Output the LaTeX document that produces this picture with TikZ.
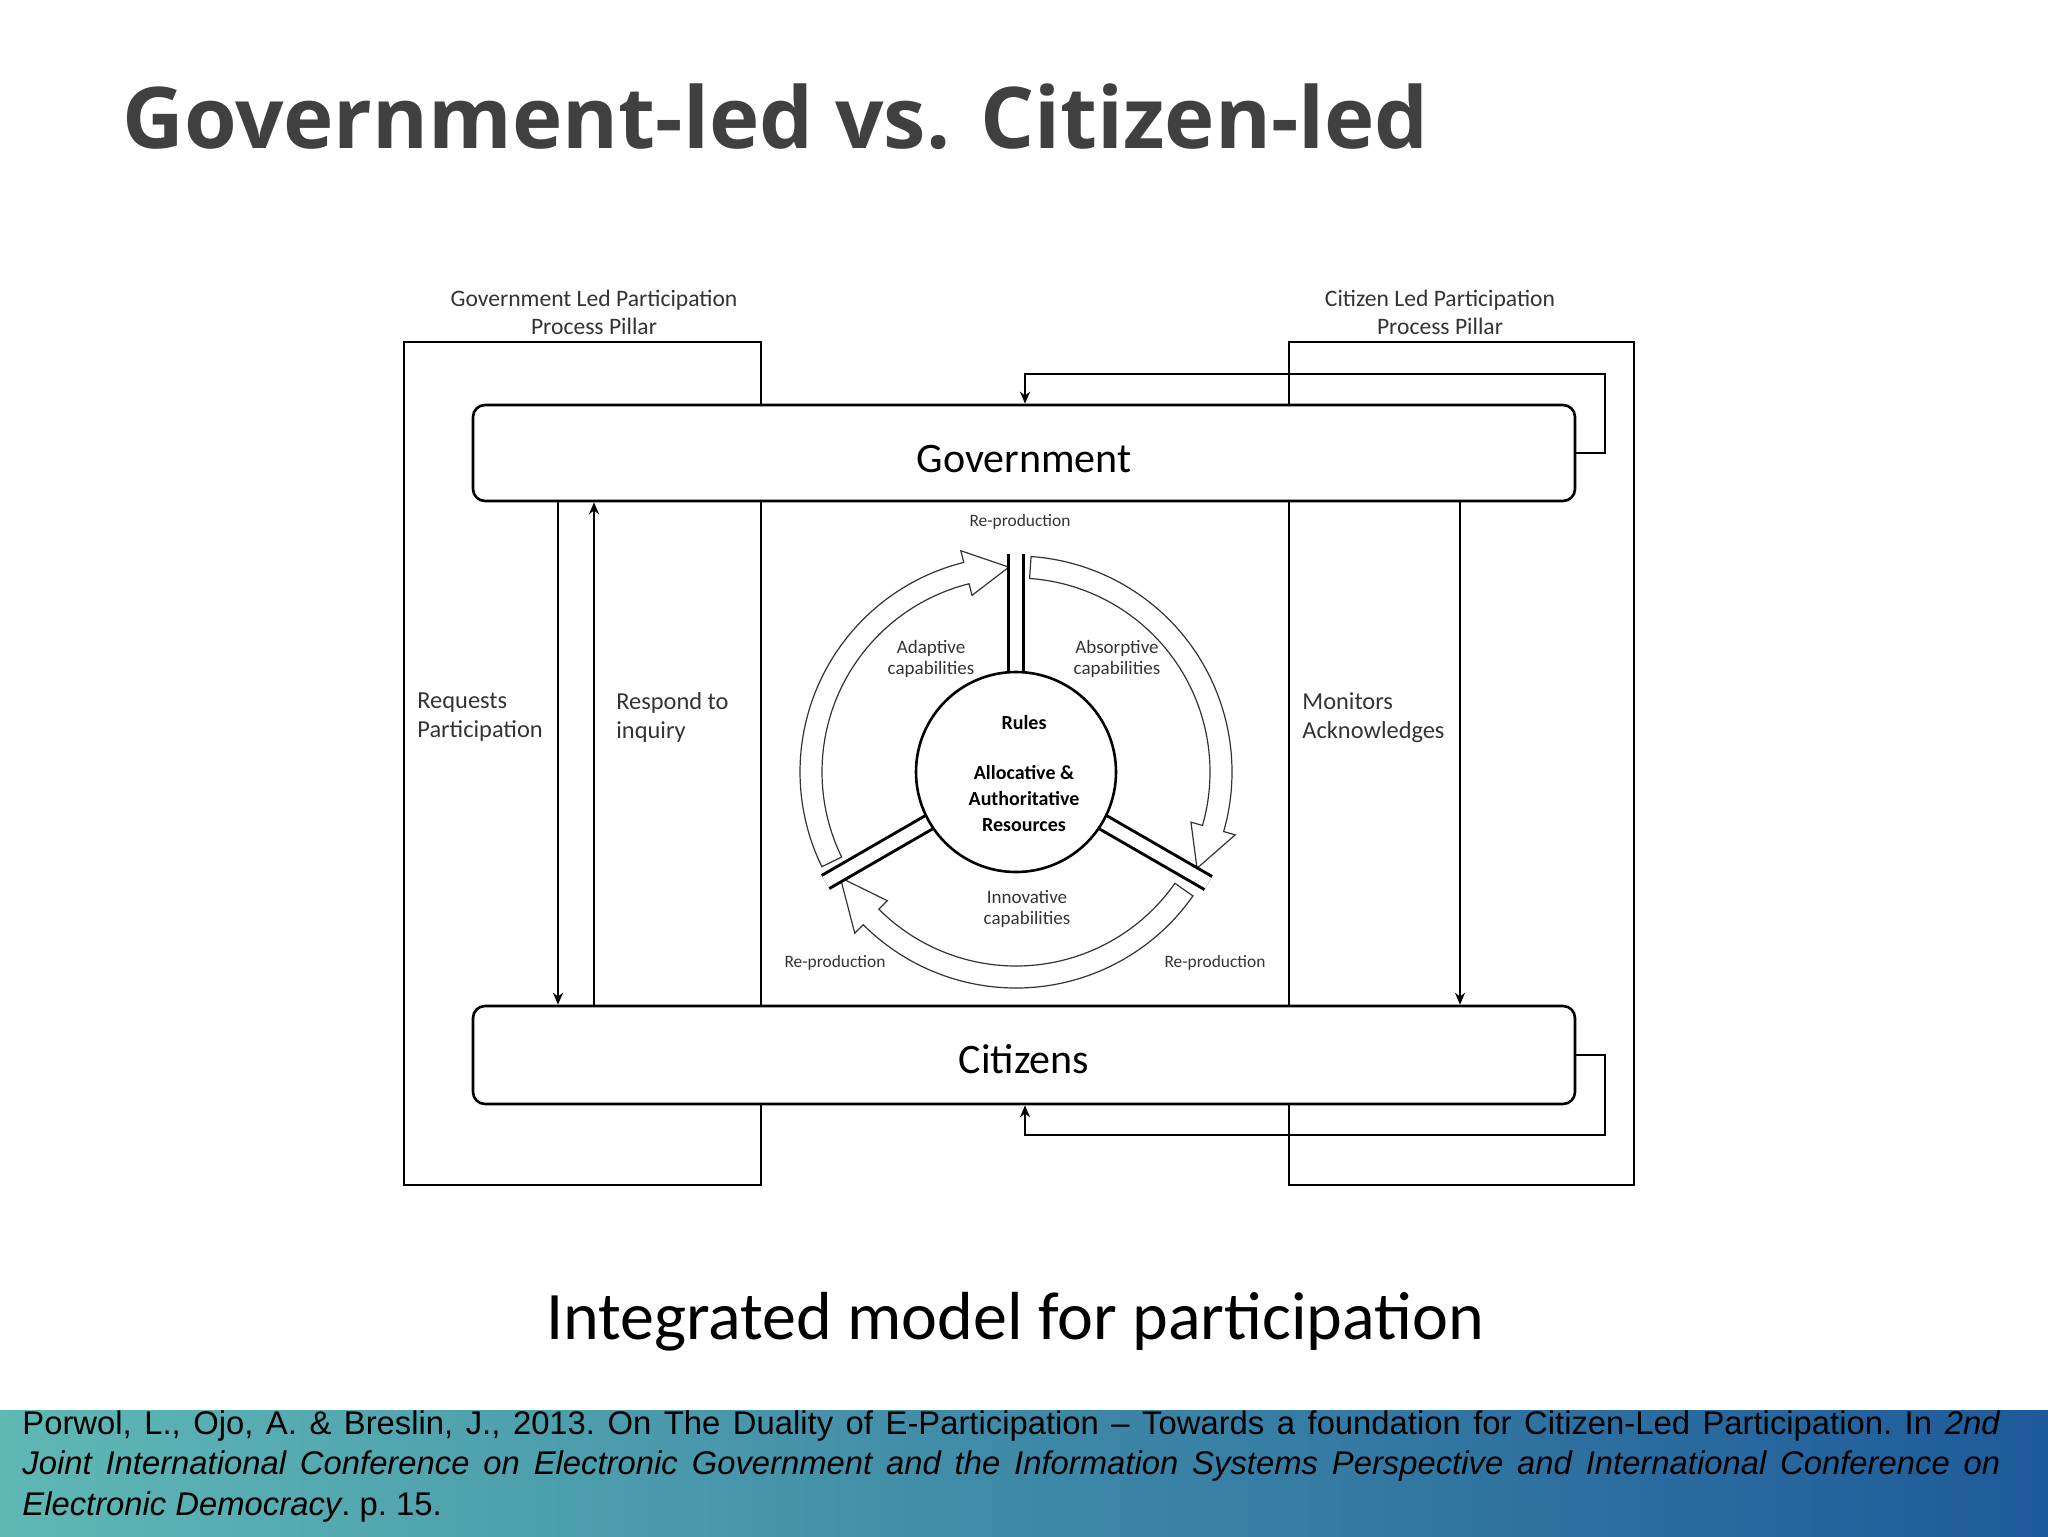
\documentclass[tikz,border=0pt]{standalone}
\usepackage{fontspec}
\setmainfont{Carlito}
\newfontfamily\titlefont{Open Sans}
\newfontfamily\reffont{Liberation Sans}
\usetikzlibrary{arrows.meta}
\definecolor{titlegray}{HTML}{404040}
\definecolor{bandA}{HTML}{5FB8B4}
\definecolor{bandB}{HTML}{1E5A9A}
\definecolor{gl}{HTML}{333333}
\tikzset{
  ln/.style={line width=1.3pt,draw=black},
  bigbox/.style={ln,rounded corners=6pt,fill=white},
  lbl/.style={font=\fontsize{12.2}{14.5}\selectfont,text=gl,align=left,anchor=north west,inner sep=0pt},
  small/.style={font=\fontsize{8.7}{10.5}\selectfont,text=gl,align=center,inner sep=0pt},
  caplbl/.style={font=\fontsize{9.5}{10.5}\selectfont,text=gl,align=center,inner sep=0pt},
  ring/.style={line width=0.6pt,draw=black!80,fill=white},
  spoke/.style={line width=1.5pt,double=white,double distance=6pt},
  arr/.style={ln,-{Stealth[length=6pt,width=5pt]}}
}
\begin{document}
\begin{tikzpicture}[x=0.5pt,y=-0.5pt]
\useasboundingbox (0,0) rectangle (2048,1536);
% band
\shade[left color=bandA,right color=bandB] (0,1410) rectangle (2048,1536);
\node[anchor=west,font=\titlefont\bfseries\fontsize{42.6}{48}\selectfont,text=titlegray,inner sep=0pt] (title) at (122,117) {Government-led vs. Citizen-led};
% pillars
\draw[ln] (404,342) rectangle (761,1185);
\draw[ln] (1289,342) rectangle (1634,1185);
\node[small,font=\fontsize{11.8}{14}\selectfont] (gp) at (594,312) {Government Led Participation\\Process Pillar};
\node[small,font=\fontsize{11.8}{14}\selectfont] (cp) at (1440,312) {Citizen Led Participation\\Process Pillar};
% boxes
\node[bigbox,minimum width=551pt,minimum height=48pt,inner sep=0pt] (gov) at (1024,453) {};
\node[font=\fontsize{21}{24}\selectfont] at (1024,459) {Government};
\node[bigbox,minimum width=551pt,minimum height=49pt,inner sep=0pt] (cit) at (1024,1055) {};
\node[font=\fontsize{21}{24}\selectfont] at (1024,1059) {Citizens};
% feedback loops
\coordinate (g1) at (1605,453); \coordinate (g2) at (1605,374); \coordinate (g3) at (1025,374);
\draw[arr] (gov.east |- g1) -- (g1) -- (g2) -- (g3) -- (g3 |- gov.north);
\coordinate (c1) at (1605,1055); \coordinate (c2) at (1605,1135); \coordinate (c3) at (1025,1135);
\draw[arr] (cit.east |- c1) -- (c1) -- (c2) -- (c3) -- (c3 |- cit.south);
% vertical arrows
\coordinate (a1) at (558,0); \coordinate (a2) at (594,0); \coordinate (a3) at (1460,0);
\draw[arr] (a1 |- gov.south) -- (a1 |- cit.north);
\draw[arr] (a2 |- cit.north) -- (a2 |- gov.south);
\draw[arr] (a3 |- gov.south) -- (a3 |- cit.north);
\node[lbl] (rq) at (417,692) {Requests\\Participation};
\node[lbl] (ri) at (616,692) {Respond to\\inquiry};
\node[lbl] (mo) at (1302,692) {Monitors\\Acknowledges};
% cycle
\begin{scope}[shift={(1016,772)},yscale=-1]
\draw[ring] (206:194) arc[start angle=206,end angle=104,radius=194] -- (104:182) -- (92:205) -- (104:228) -- (104:216) arc[start angle=104,end angle=206,radius=216] -- cycle;
\draw[ring] (86:194) arc[start angle=86,end angle=-16,radius=194] -- (-16:182) -- (-28:205) -- (-16:228) -- (-16:216) arc[start angle=-16,end angle=86,radius=216] -- cycle;
\draw[ring] (-35:194) arc[start angle=-35,end angle=-135,radius=194] -- (-135:182) -- (-149:205) -- (-135:228) -- (-135:216) arc[start angle=-135,end angle=-35,radius=216] -- cycle;
\draw[spoke] (90:100) -- (90:218);
\draw[spoke] (210:100) -- (210:220);
\draw[spoke] (330:100) -- (330:222);
\draw[ln,fill=white] (0,0) circle[radius=100];
\end{scope}
\node[font=\bfseries\fontsize{10}{13}\selectfont,align=center] (rules) at (1024,723) {Rules};
\node[font=\bfseries\fontsize{10}{13}\selectfont,align=center] (res) at (1024,799) {Allocative \&\\Authoritative\\Resources};
\node[small] (rp1) at (1020,522) {Re-production};
\node[small] (rp2) at (835,963) {Re-production};
\node[small] (rp3) at (1215,963) {Re-production};
\node[caplbl] (ad) at (931,659) {Adaptive\\capabilities};
\node[caplbl] (ab) at (1117,659) {Absorptive\\capabilities};
\node[caplbl] (in) at (1027,909) {Innovative\\capabilities};
% caption
\node[font=\fontsize{34}{40}\selectfont,inner sep=0pt] (capt) at (1015,1322) {Integrated model for participation};
\node[anchor=north west,inner sep=0pt,text width=989pt,align=justify,font=\reffont\fontsize{16.4}{20.3}\selectfont] (ref) at (22,1410) {\frenchspacing Porwol, L., Ojo, A. \& Breslin, J., 2013. On The Duality of E-Participation – Towards a foundation for Citizen-Led Participation. In \textit{2nd}\linebreak \textit{Joint International Conference on Electronic Government and the Information Systems Perspective and International Conference on}\linebreak \textit{Electronic Democracy}. p. 15.};
\end{tikzpicture}
\end{document}
